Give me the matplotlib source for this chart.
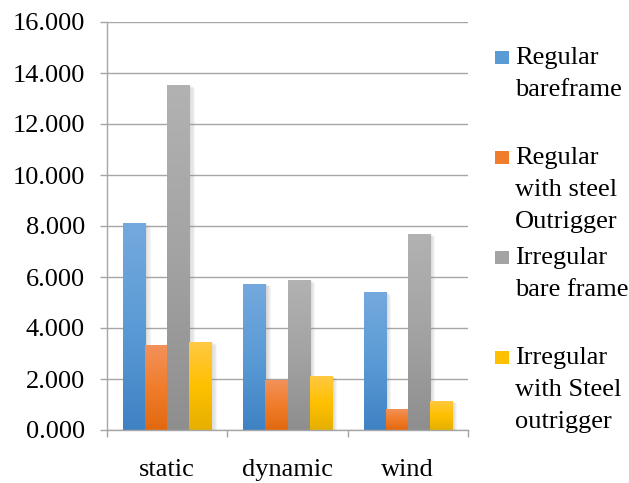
import matplotlib
matplotlib.use("Agg")
import matplotlib.pyplot as plt
import matplotlib.patheffects as pe
import numpy as np
from matplotlib.colors import LinearSegmentedColormap
from matplotlib.patches import Rectangle

plt.rcParams["font.family"] = ["Liberation Serif", "DejaVu Serif"]

categories = ["static", "dynamic", "wind"]
series_names = [
    "Regular\nbareframe",
    "Regular\nwith steel\nOutrigger",
    "Irregular\nbare frame",
    "Irregular\nwith Steel\noutrigger",
]
regular_bare = [8.12, 5.74, 5.42]
regular_steel = [3.35, 1.97, 0.84]
irregular_bare = [13.54, 5.89, 7.70]
irregular_steel = [3.46, 2.13, 1.15]
yticks = [0, 2, 4, 6, 8, 10, 12, 14, 16]

# (top, middle, bottom) shades for the vertical fill of each series
shades = [
    ("#74A9DE", "#5B9BD5", "#3F82C4"),
    ("#F3925C", "#F07D2C", "#E2680F"),
    ("#B2B2B2", "#A3A3A3", "#8E8E8E"),
    ("#FFC945", "#FFC000", "#E5B000"),
]

values = [regular_bare, regular_steel, irregular_bare, irregular_steel]
FS = 19
GRID = "#A6A6A6"

fig = plt.figure(figsize=(6.29, 4.83), dpi=100)
ax = fig.add_axes([107 / 629, 53 / 483, 361 / 629, 408 / 483])

x = np.arange(len(categories))
width = 0.183
offsets = (np.arange(len(values)) - 1.5) * width
shadow = [pe.SimplePatchShadow(offset=(0.8 * k, -0.4 * k), shadow_rgbFace="#7f7f7f", alpha=0.07)
          for k in (1, 2, 3, 4, 5)] + [pe.Normal()]

grad = np.linspace(0, 1, 256).reshape(-1, 1)
for vals, off, (top, mid, bot) in zip(values, offsets, shades):
    cmap = LinearSegmentedColormap.from_list("g", [bot, mid, top])
    bars = ax.bar(x + off, vals, width, color=mid, zorder=2, linewidth=0)
    for b in bars:
        b.set_path_effects(shadow)
        x0, y0 = b.get_x(), b.get_y()
        im = ax.imshow(grad, cmap=cmap, origin="lower", aspect="auto",
                       extent=(x0, x0 + b.get_width(), y0, y0 + b.get_height()),
                       zorder=2.5, interpolation="bilinear")
        im.set_clip_path(b)

ax.set_xlim(-0.5, 2.5)
ax.set_ylim(0, 16)
ax.set_yticks(yticks)
ax.set_yticklabels([f"{v:.3f}" for v in yticks], fontsize=FS)
ax.set_xticks(x)
ax.set_xticklabels(categories, fontsize=FS)
ax.set_xticks(np.arange(-0.5, 2.6, 1), minor=True)
ax.tick_params(axis="x", which="major", length=0, pad=21)
ax.tick_params(axis="x", which="minor", length=5, color=GRID, width=1)
ax.tick_params(axis="y", length=5, color=GRID, width=1, pad=11)
ax.yaxis.grid(True, color=GRID, linewidth=1)
ax.set_axisbelow(True)
for s in ("top", "right"):
    ax.spines[s].set_visible(False)
for s in ("left", "bottom"):
    ax.spines[s].set_color(GRID)
    ax.spines[s].set_linewidth(1)

# legend drawn by hand: evenly spaced entries down the right side
for i, (name, (top, mid, bot)) in enumerate(zip(series_names, shades)):
    yc = 57 + 100 * i
    fig.patches.append(Rectangle((495 / 629, 1 - (yc + 7) / 483), 14 / 629, 13 / 483,
                                 transform=fig.transFigure, facecolor=mid, edgecolor="none"))
    fig.text(515 / 629, 1 - (yc - 10) / 483, name, fontsize=FS, va="top", ha="left",
             linespacing=1.58)

fig.savefig("out.png", dpi=100)
